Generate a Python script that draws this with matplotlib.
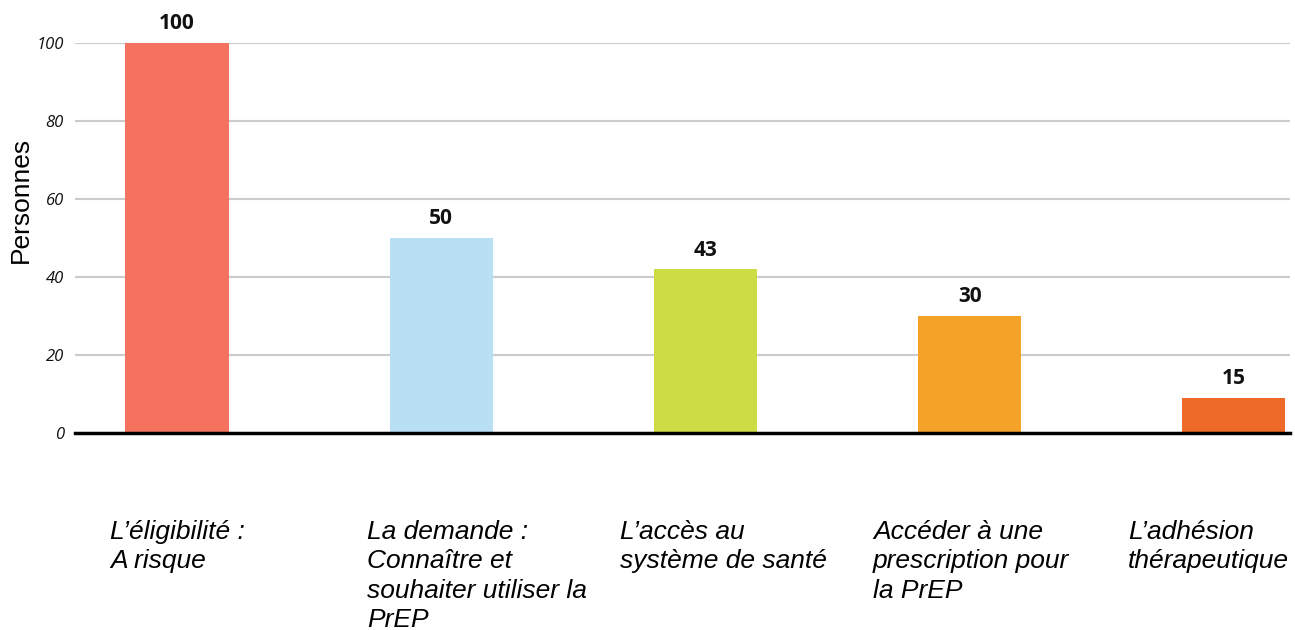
import matplotlib
matplotlib.use("Agg")
import matplotlib.pyplot as plt

# ---- data ----
categories = [
    "L\u2019éligibilité :\nA risque",
    "La demande :\nConnaître et\nsouhaiter utiliser la\nPrEP",
    "L\u2019accès au\nsystème de santé",
    "Accéder à une\nprescription pour\nla PrEP",
    "L\u2019adhésion\nthérapeutique",
]
bar_heights = [100, 50, 42, 30, 9]
value_labels = ["100", "50", "43", "30", "15"]
colors = ["#F4725E", "#B9DFF5", "#CDDC45", "#F5A228", "#EE6A28"]
yticks = [0, 20, 40, 60, 80, 100]
ylabel = "Personnes"

W, H, DPI = 1295, 630, 100
fig = plt.figure(figsize=(W / DPI, H / DPI), dpi=DPI)

ax_left, ax_right = 75, 1290
ax_bottom, ax_top = 432.7, 42.7
ax = fig.add_axes([ax_left / W, 1 - ax_bottom / H,
                   (ax_right - ax_left) / W, (ax_bottom - ax_top) / H])

x0, step = 177.0, 264.2
xs = list(range(len(categories)))
ax.set_xlim((ax_left - x0) / step, (ax_right - x0) / step)
ax.set_ylim(0, 100)

ax.set_yticks(yticks)
ax.yaxis.grid(True, color="#CBCBCB", linewidth=1.5)
ax.set_axisbelow(True)
ax.bar(xs, bar_heights, width=0.39, color=colors, zorder=2)
ax.axhline(0, color="black", linewidth=2.5, zorder=3, clip_on=False)

for s in ax.spines.values():
    s.set_visible(False)
ax.set_xticks([])
ax.tick_params(axis="y", length=0, pad=8)
for lab in ax.get_yticklabels():
    lab.set_fontfamily("Open Sans")
    lab.set_fontstyle("italic")
    lab.set_fontsize(12)
    lab.set_color("#111111")

for x, h, t in zip(xs, bar_heights, value_labels):
    ax.annotate(t, (x, h), xytext=(0, 6), textcoords="offset points",
                ha="center", va="bottom", fontsize=15, fontweight="bold",
                family="Open Sans", color="#111111", clip_on=False)

fig.text(21 / W, 1 - 200 / H, ylabel, rotation=90, ha="center", va="center",
         fontsize=19, family="Liberation Sans", color="black")

label_x = [110, 367, 620, 873, 1128]
for lx, c in zip(label_x, categories):
    fig.text(lx / W, 1 - 520 / H, c, ha="left", va="top", fontsize=19,
             family="Liberation Sans", style="italic", color="black",
             linespacing=1.28)

fig.savefig("out.png", dpi=DPI)
